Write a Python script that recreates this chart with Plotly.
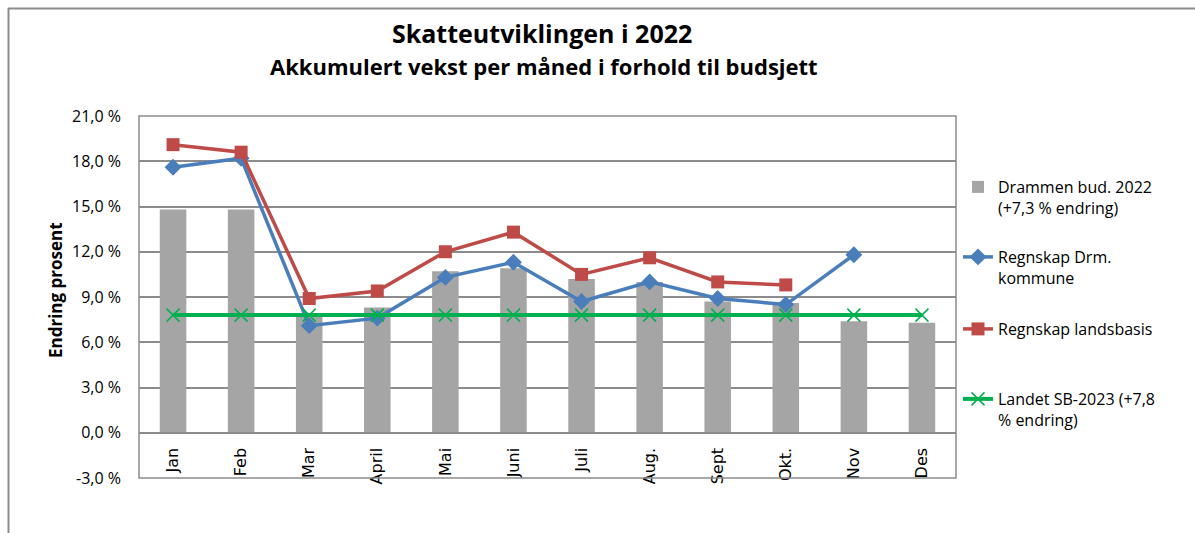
import plotly.graph_objects as go

months = ["Jan", "Feb", "Mar", "April", "Mai", "Juni", "Juli", "Aug.", "Sept", "Okt.", "Nov", "Des"]
budsjett = [14.8, 14.8, 7.8, 8.3, 10.7, 10.9, 10.2, 10.0, 8.7, 8.6, 7.4, 7.3]
drm = [17.6, 18.2, 7.1, 7.6, 10.3, 11.3, 8.7, 10.0, 8.9, 8.5, 11.8]
landsbasis = [19.1, 18.6, 8.9, 9.4, 12.0, 13.3, 10.5, 11.6, 10.0, 9.8]
landet = [7.8] * 12
yticks = [-3, 0, 3, 6, 9, 12, 15, 18, 21]
yticktext = [f"{v:.1f}".replace(".", ",") + " %" for v in yticks]

W, H = 1195, 533
L, R, T, B = 139, 956, 116, 478


def px(x):
    return (x - L) / (R - L)


def py(y):
    return (B - y) / (B - T)


FONT = "Open Sans"
fig = go.Figure()
fig.add_trace(go.Bar(x=months, y=budsjett, name="Drammen bud. 2022<br>(+7,3 % endring)",
                     marker=dict(color="#A5A5A5", line=dict(width=0)), legend="legend"))
fig.add_trace(go.Scatter(x=months[:len(drm)], y=drm, name="Regnskap Drm.<br>kommune", mode="lines+markers",
                         line=dict(color="#4A7EBB", width=3.5),
                         marker=dict(symbol="diamond", size=13, color="#4A7EBB"), legend="legend2"))
fig.add_trace(go.Scatter(x=months[:len(landsbasis)], y=landsbasis, name="Regnskap landsbasis", mode="lines+markers",
                         line=dict(color="#BE4B48", width=3.5),
                         marker=dict(symbol="square", size=13, color="#BE4B48"), legend="legend3"))
fig.add_trace(go.Scatter(x=months, y=landet, name="Landet SB-2023 (+7,8<br>% endring)", mode="lines+markers",
                         line=dict(color="#00B050", width=4),
                         marker=dict(symbol="x-thin", size=13, color="#00B050",
                                     line=dict(color="#00B050", width=1.5)), legend="legend4"))

legfont = dict(family=FONT, size=16, color="#000000")


def leg(x, y):
    return dict(x=px(x), y=py(y), xanchor="left", yanchor="top", font=legfont, bgcolor="rgba(0,0,0,0)",
                borderwidth=0, valign="top", itemclick=False)


shapes = [
    dict(type="rect", xref="paper", yref="paper", x0=0, x1=1, y0=0, y1=1, line=dict(color="#8C8C8C", width=1.5)),
    dict(type="line", xref="paper", yref="paper", x0=px(8), x1=px(1200), y0=py(8.5), y1=py(8.5),
         line=dict(color="#8C8C8C", width=2)),
    dict(type="line", xref="paper", yref="paper", x0=px(8.5), x1=px(8.5), y0=py(8), y1=py(540),
         line=dict(color="#8C8C8C", width=2)),
]

annotations = [
    dict(text="<b>Skatteutviklingen i 2022</b>", xref="paper", yref="paper", x=px(542), y=py(33),
         xanchor="center", yanchor="middle", showarrow=False, font=dict(family=FONT, size=25, color="#000")),
    dict(text="<b>Akkumulert vekst per måned i forhold til budsjett</b>", xref="paper", yref="paper",
         x=px(544), y=py(66), xanchor="center", yanchor="middle", showarrow=False,
         font=dict(family=FONT, size=22, color="#000")),
    dict(text="<b>Endring prosent</b>", xref="paper", yref="paper", x=px(55), y=py(290),
         xanchor="center", yanchor="middle", textangle=-90, showarrow=False,
         font=dict(family=FONT, size=17, color="#000")),
]

fig.update_layout(
    width=W, height=H, autosize=False,
    margin=dict(l=L, r=W - R, t=T, b=H - B),
    paper_bgcolor="white", plot_bgcolor="white",
    bargap=0.61,
    showlegend=True,
    legend=leg(958, 170),
    legend2=leg(958, 240),
    legend3=leg(958, 312),
    legend4=leg(958, 382),
    shapes=shapes,
    annotations=annotations,
    xaxis=dict(type="category", range=[-0.5, 11.5], anchor="free", position=(0 - (-3)) / 24,
               showline=True, linecolor="#8C8C8C", linewidth=1.5, showgrid=False, ticks="",
               tickangle=-90, ticklabelstandoff=8,
               tickfont=dict(family="DejaVu Sans", size=16, color="#000")),
    yaxis=dict(range=[-3, 21], tickvals=yticks, ticktext=yticktext,
               showgrid=True, gridcolor="#8C8C8C", gridwidth=1.5, zeroline=False, showline=False,
               ticks="", ticklabelstandoff=17,
               tickfont=dict(family=FONT, size=16, color="#000")),
)

fig.write_html("out.html", config={"displayModeBar": False},
               post_script="document.body.style.margin='0';")
